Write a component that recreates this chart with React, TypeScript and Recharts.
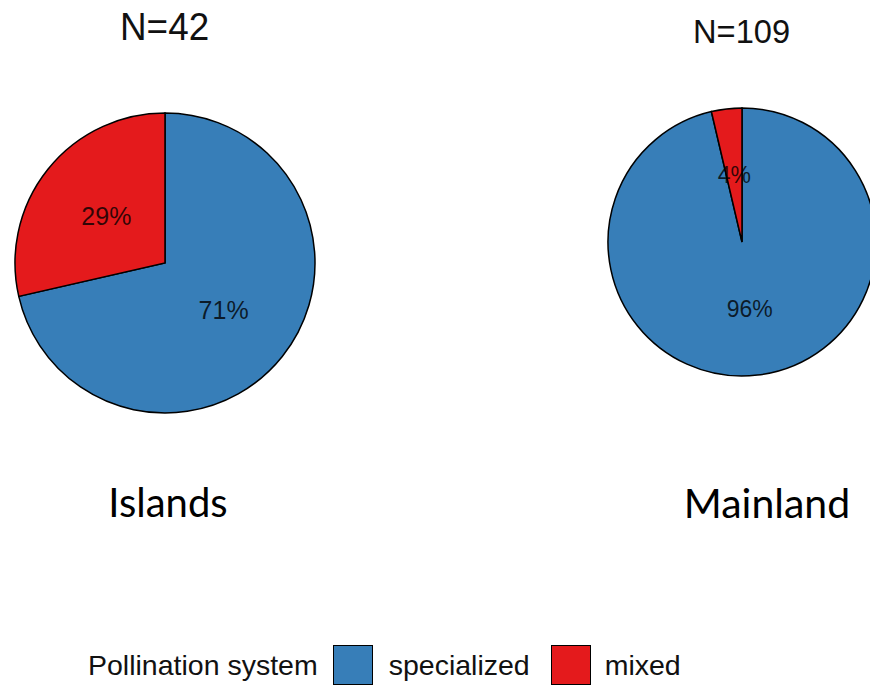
import { PieChart, Pie, Cell, Legend } from 'recharts';

// Pollination system counts per region
const categories = ['specialized', 'mixed'];
const colors = ['#377EB8', '#E41A1C'];
const islandCounts = [30, 12];
const mainlandCounts = [105, 4];
const islandTitle = 'N=42';
const mainlandTitle = 'N=109';

const islandData = categories.map((name, i) => ({ name, value: islandCounts[i] }));
const mainlandData = categories.map((name, i) => ({ name, value: mainlandCounts[i] }));

const RAD = Math.PI / 180;

// percent labels sit halfway out along each slice's middle angle
const makeLabel = (fontSize: number) => (props: any) => {
  const { cx, cy, midAngle, outerRadius, percent } = props;
  const r = outerRadius * 0.5;
  const x = cx + r * Math.cos(-midAngle * RAD);
  const y = cy + r * Math.sin(-midAngle * RAD);
  return (
    <text
      x={x}
      y={y}
      fill="#000"
      fillOpacity={0.78}
      textAnchor="middle"
      dominantBaseline="central"
      fontFamily="'Liberation Sans', Arial, sans-serif"
      fontSize={fontSize}
    >
      {`${Math.round(percent * 100)}%`}
    </text>
  );
};

const LegendContent = () => (
  <div style={{ display: 'flex', alignItems: 'center', height: 40, fontFamily: "'Liberation Sans', Arial, sans-serif", fontSize: 28.5, color: '#111', lineHeight: 1 }}>
    <span style={{ marginRight: 15 }}>Pollination system</span>
    <span style={{ width: 40, height: 40, background: colors[0], border: '1.5px solid #000', boxSizing: 'border-box', marginRight: 16 }} />
    <span style={{ marginRight: 21 }}>{categories[0]}</span>
    <span style={{ width: 40, height: 40, background: colors[1], border: '1.5px solid #000', boxSizing: 'border-box', marginRight: 14 }} />
    <span>{categories[1]}</span>
  </div>
);

export default function App() {
  const titleStyle: React.CSSProperties = {
    position: 'absolute',
    fontFamily: "'Liberation Sans', Arial, sans-serif",
    color: '#111',
    whiteSpace: 'nowrap',
    lineHeight: 1,
  };
  const regionStyle: React.CSSProperties = {
    position: 'absolute',
    fontFamily: 'Lato, sans-serif',
    fontSize: 40,
    color: '#000',
    transform: 'translateX(-50%)',
    whiteSpace: 'nowrap',
    lineHeight: 1,
  };
  return (
    <div style={{ position: 'fixed', left: 0, top: 0, width: 870, height: 690, background: '#fff', overflow: 'hidden' }}>
      <PieChart width={870} height={690} margin={{ top: 0, right: 0, bottom: 0, left: 0 }}>
        <Pie
          data={islandData}
          dataKey="value"
          nameKey="name"
          cx={165}
          cy={263}
          outerRadius={150}
          startAngle={90}
          endAngle={-270}
          stroke="#000"
          strokeWidth={1.5}
          label={makeLabel(25)}
          labelLine={false}
          isAnimationActive={false}
        >
          {islandData.map((d, i) => (
            <Cell key={d.name} fill={colors[i]} />
          ))}
        </Pie>
        <Pie
          data={mainlandData}
          dataKey="value"
          nameKey="name"
          cx={742}
          cy={242}
          outerRadius={134}
          startAngle={90}
          endAngle={-270}
          stroke="#000"
          strokeWidth={1.5}
          label={makeLabel(23)}
          labelLine={false}
          isAnimationActive={false}
        >
          {mainlandData.map((d, i) => (
            <Cell key={d.name} fill={colors[i]} />
          ))}
        </Pie>
        <Legend
          content={LegendContent}
          layout="horizontal"
          verticalAlign="bottom"
          wrapperStyle={{ position: 'absolute', left: 88, top: 645, width: 720, height: 40 }}
        />
      </PieChart>
      <div style={{ ...titleStyle, left: 120, top: 8, fontSize: 38, transform: 'scaleX(0.97)', transformOrigin: 'left' }}>{islandTitle}</div>
      <div style={{ ...titleStyle, left: 693, top: 14, fontSize: 34, transform: 'scaleX(0.96)', transformOrigin: 'left' }}>{mainlandTitle}</div>
      <div style={{ ...regionStyle, left: 168, top: 482 }}>Islands</div>
      <div style={{ ...regionStyle, left: 767, top: 482, fontSize: 41 }}>Mainland</div>
    </div>
  );
}
